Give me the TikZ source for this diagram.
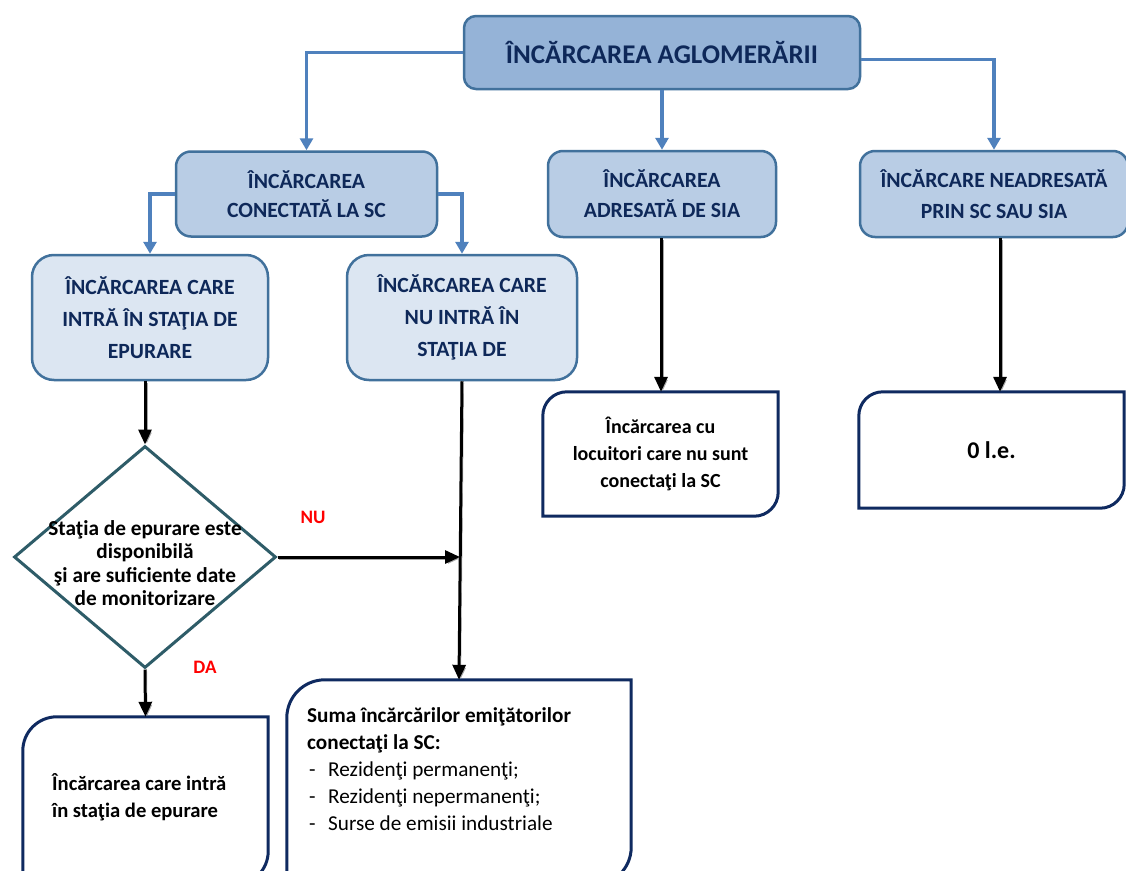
\documentclass[tikz,border=0pt]{standalone}
\usepackage{fontspec}
\setmainfont{Carlito}
\usetikzlibrary{shapes.geometric,arrows.meta,calc}
\definecolor{navytext}{HTML}{0E2859}
\definecolor{boxedge}{HTML}{41719C}
\definecolor{fillA}{HTML}{95B3D7}
\definecolor{fillB}{HTML}{B9CDE5}
\definecolor{fillC}{HTML}{DCE6F2}
\definecolor{linkblue}{HTML}{4F81BD}
\definecolor{frameedge}{HTML}{0F2A60}
\definecolor{diamedge}{HTML}{2E5C68}

% outline with rounded top-left and bottom-right corners (radius #2, in pt)
\newcommand{\roundframe}[2]{%
  \pgfmathsetmacro{\frameknot}{0.448*#2}%
  \draw[frameline] (#1.south west) -- ([yshift=-#2pt]#1.north west)
    .. controls ([yshift=-\frameknot pt]#1.north west)
       and ([xshift=\frameknot pt]#1.north west) .. ([xshift=#2pt]#1.north west)
    -- (#1.north east) -- ([yshift=#2pt]#1.south east)
    .. controls ([yshift=\frameknot pt]#1.south east)
       and ([xshift=-\frameknot pt]#1.south east) .. ([xshift=-#2pt]#1.south east)
    -- cycle;}

\begin{document}
\begin{tikzpicture}[x=1pt,y=-1pt,
  bluebox/.style={draw=boxedge, line width=2.5pt, rounded corners=#1,
    text=navytext, align=center, inner sep=0pt},
  framebox/.style={draw=none, inner sep=0pt, align=center},
  frameline/.style={draw=frameedge, line width=3pt},
  bluelink/.style={draw=linkblue, line width=3.5pt,
    -{Triangle[length=12pt,width=13pt]}},
  blacklink/.style={draw=black, line width=3pt,
    -{Triangle[length=15pt,width=13pt]},
    preaction={draw=black!35, transform canvas={shift={(1.8pt,-1.8pt)}}}},
  choice/.style={text=red, font=\fontsize{19}{22}\selectfont\bfseries}
]
\clip (0,0) rectangle (1126,870);
\fill[white] (0,0) rectangle (1126,870);

% top level
\node[bluebox=12pt, fill=fillA, minimum width=396pt, minimum height=73pt,
  font=\fontsize{27}{32}\selectfont\bfseries] (top) at (662,52.5)
  {ÎNCĂRCAREA AGLOMERĂRII};

% second level
\node[bluebox=15pt, fill=fillB, minimum width=261pt, minimum height=85pt,
  font=\fontsize{21.7}{29}\selectfont\bfseries] (sc) at (306.5,194)
  {ÎNCĂRCAREA\\CONECTATĂ LA SC};
\node[bluebox=15pt, fill=fillB, minimum width=228pt, minimum height=86pt,
  font=\fontsize{21.7}{30}\selectfont\bfseries] (sia) at (662,194)
  {ÎNCĂRCAREA\\ADRESATĂ DE SIA};
\node[bluebox=15pt, fill=fillB, minimum width=268pt, minimum height=86pt,
  font=\fontsize{21.7}{31}\selectfont\bfseries] (none) at (994,194)
  {ÎNCĂRCARE NEADRESATĂ\\PRIN SC SAU SIA};

% third level
\node[bluebox=22pt, fill=fillC, minimum width=236pt, minimum height=125pt,
  font=\fontsize{21.7}{32}\selectfont\bfseries] (in) at (150,317.5)
  {ÎNCĂRCAREA CARE\\INTRĂ ÎN STAŢIA DE\\EPURARE};
\node[bluebox=22pt, fill=fillC, minimum width=230pt, minimum height=125pt,
  font=\fontsize{21.7}{32}\selectfont\bfseries] (out) at (462,317.5)
  {ÎNCĂRCAREA CARE\\NU INTRĂ ÎN\\STAŢIA DE};

% decision
\node[diamond, draw=diamedge, line width=3pt, minimum width=262pt,
  minimum height=222pt, inner sep=0pt] (d) at (145,557) {};
\node[align=center, inner sep=0pt, font=\fontsize{21.3}{23.5}\selectfont\bfseries]
  (dtext) at (145,563)
  {Staţia de epurare este\\disponibilă\\şi are suficiente date\\de monitorizare};

% result boxes
\node[framebox, minimum width=235pt, minimum height=124pt,
  font=\fontsize{20}{27}\selectfont\bfseries] (unc) at (660.5,454)
  {Încărcarea cu\\locuitori care nu sunt\\conectaţi la SC};
\roundframe{unc}{24}
\node[framebox, minimum width=265pt, minimum height=116pt,
  font=\fontsize{24}{28}\selectfont\bfseries] (zero) at (991.5,450) {0 l.e.};
\roundframe{zero}{24}
\node[framebox, minimum width=245pt, minimum height=168pt] (wwtp) at (145.5,801) {};
\roundframe{wwtp}{34}
\node[anchor=west, align=left, inner sep=0pt,
  font=\fontsize{20.6}{27}\selectfont\bfseries] (wwtptext) at (52,797)
  {Încărcarea care intră\\în staţia de epurare};
\node[framebox, minimum width=344pt, minimum height=205pt] (sum) at (459,782.5) {};
\roundframe{sum}{38}
\node[anchor=north west, align=left, inner sep=0pt,
  font=\fontsize{21.2}{27}\selectfont] (sumtext) at (307,707)
  {\textbf{Suma încărcărilor emiţătorilor}\\
   \textbf{conectaţi la SC:}\\
   \makebox[21pt][l]{\hspace{2pt}-}Rezidenţi permanenţi;\\
   \makebox[21pt][l]{\hspace{2pt}-}Rezidenţi nepermanenţi;\\
   \makebox[21pt][l]{\hspace{2pt}-}Surse de emisii industriale};

% blue connectors
\draw[bluelink] (top.west) -| (sc.north);
\draw[bluelink] (top.south -| sia.north) -- (sia.north);
\draw[bluelink] ([yshift=-7pt]top.east) -| (none.north);
\draw[bluelink] (sc.west) -| (in.north);
\draw[bluelink] (sc.east) -| (out.north);

% black connectors
\draw[blacklink] (in.south -| d.north) -- (d.north);
\draw[blacklink] (out.south) -- (sum.north);
\draw[blacklink] (d.east) -- ([xshift=-2pt]d.east -| out.south);
\draw[blacklink] (d.south) -- (wwtp.north);
\draw[blacklink] ([xshift=-1pt]sia.south) -- ([xshift=-1pt]sia.south |- unc.north);
\draw[blacklink] ([xshift=6pt]none.south) -- ([xshift=6pt]none.south |- zero.north);

% decision labels
\node[choice] (nu) at (313,517) {NU};
\node[choice] (da) at (205,667) {DA};
\end{tikzpicture}
\end{document}
